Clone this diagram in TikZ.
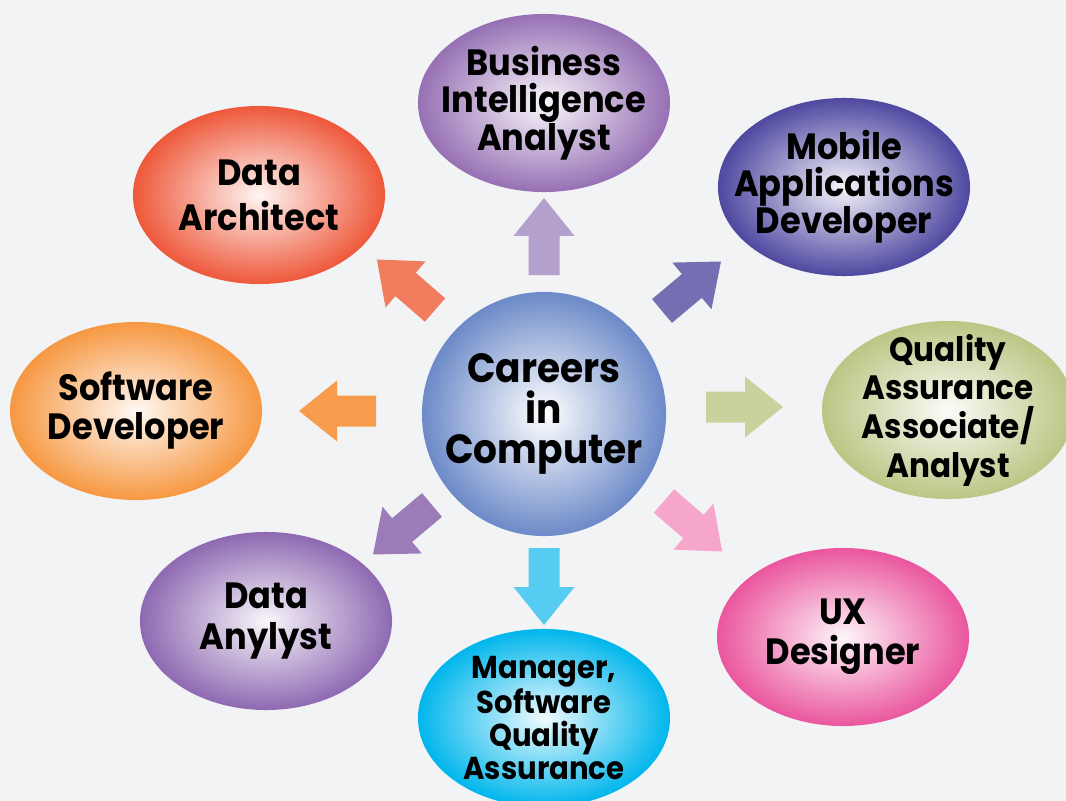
\documentclass[tikz,border=0pt]{standalone}
\usepackage{fontspec}
\setmainfont{Poppins}[FakeStretch=0.92]
\usetikzlibrary{shapes.geometric}

\definecolor{bgcol}{RGB}{242,243,245}
\definecolor{cCenter}{RGB}{108,138,200}
\definecolor{cBI}{RGB}{150,112,180}
\definecolor{cArch}{RGB}{238,88,58}
\definecolor{cMobile}{RGB}{78,72,160}
\definecolor{cSoft}{RGB}{246,152,66}
\definecolor{cQA}{RGB}{186,198,132}
\definecolor{cAny}{RGB}{142,105,178}
\definecolor{cSQA}{RGB}{0,182,236}
\definecolor{cUX}{RGB}{234,86,158}
% arrow colours
\definecolor{aUp}{RGB}{180,160,205}
\definecolor{aUL}{RGB}{241,124,94}
\definecolor{aUR}{RGB}{116,110,178}
\definecolor{aL}{RGB}{246,156,76}
\definecolor{aR}{RGB}{200,210,156}
\definecolor{aDL}{RGB}{156,124,184}
\definecolor{aD}{RGB}{86,204,242}
\definecolor{aDR}{RGB}{245,166,202}

\tikzset{
  career/.style={ellipse, inner sep=0pt, shading=radial,
    inner color=#1!6!white, outer color=#1, minimum width=6.3cm, minimum height=4.45cm},
  jobtext/.style={inner sep=0pt, align=center, font=\fontsize{26}{#1}\selectfont\bfseries},
  jobtext/.default=26.3,
  hub/.style={circle, inner sep=0pt, align=center, shading=radial,
    inner color=white, outer color=cCenter, minimum size=6.1cm,
    font=\fontsize{29}{28.5}\selectfont\bfseries}
}

\begin{document}
\begin{tikzpicture}[x=0.025cm, y=-0.025cm]
  \fill[bgcol] (0,0) rectangle (1066,801);
  \useasboundingbox (0,0) rectangle (1066,801);
  \clip (0,0) rectangle (1066,801);

  % block arrows: tail x / tail y / angle / colour
  \foreach \tx/\ty/\ang/\col in {544/275/90/aUp, 435/310/139/aUL, 662/311/40/aUR,
      376/411/180/aL, 706/407/0/aR, 432/505/220/aDL, 544/548/270/aD, 664/501/319/aDR}
    \fill[\col, shift={(\tx,\ty)}, rotate=\ang]
      (0,-15.5) -- (39,-15.5) -- (39,-30.5) -- (77,0) -- (39,30.5) -- (39,15.5) -- (0,15.5) -- cycle;

  \node[hub] (careers) at (544,414) {Careers\\in\\Computer};

  \node[career=cBI, label={[jobtext]center:Business\\Intelligence\\Analyst}] (bia) at (544,103) {};
  \node[career=cArch, label={[jobtext=32]center:Data\\Architect}] (arch) at (259,195) {};
  \node[career=cMobile, label={[jobtext]center:Mobile\\Applications\\Developer}] (mobile) at (844,187) {};
  \node[career=cSoft, label={[jobtext=27.7]center:Software\\Developer}] (softdev) at (136,411) {};
  \node[career=cQA, label={[jobtext, font=\fontsize{24}{27.5}\selectfont\bfseries]center:Quality\\Assurance\\Associate/\\Analyst}]
    (qa) at (948,410) {};
  \node[career=cAny, label={[jobtext=28.5]center:Data\\Anylyst}] (anylyst) at (266,621) {};
  \node[career=cSQA, label={[jobtext, font=\fontsize{22.5}{23.5}\selectfont\bfseries]center:{Manager,\\Software\\Quality\\Assurance}}]
    (sqa) at (544,718) {};
  \node[career=cUX, label={[jobtext=28.5]center:UX\\Designer}] (ux) at (843,637) {};
\end{tikzpicture}
\end{document}
